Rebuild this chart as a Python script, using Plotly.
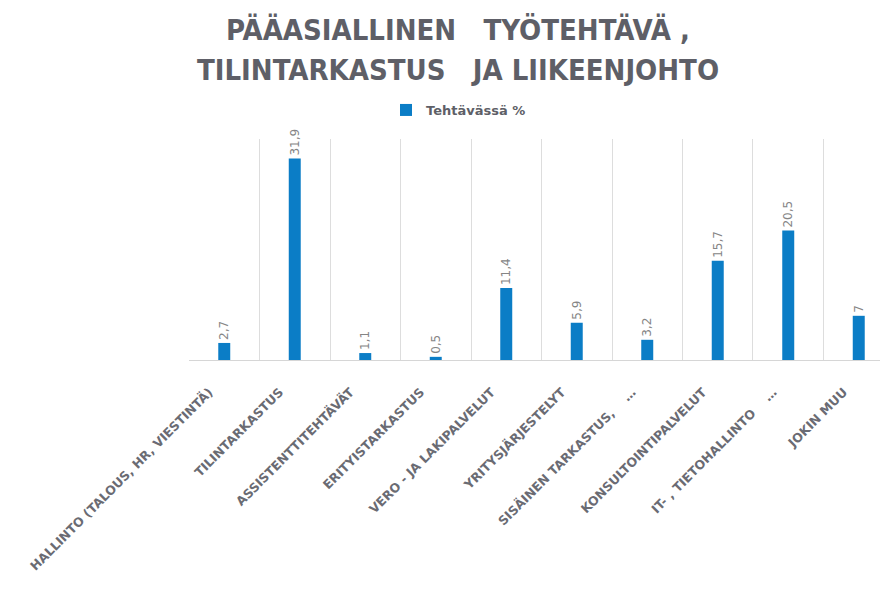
import plotly.graph_objects as go

categories = [
    "HALLINTO (TALOUS, HR, VIESTINTÄ)",
    "TILINTARKASTUS",
    "ASSISTENTTITEHTÄVÄT",
    "ERITYISTARKASTUS",
    "VERO - JA LAKIPALVELUT",
    "YRITYSJÄRJESTELYT",
    "SISÄINEN TARKASTUS,    …",
    "KONSULTOINTIPALVELUT",
    "IT- , TIETOHALLINTO    …",
    "JOKIN MUU",
]
values = [2.7, 31.9, 1.1, 0.5, 11.4, 5.9, 3.2, 15.7, 20.5, 7]
series_name = "Tehtävässä %"
title_lines = ["PÄÄASIALLINEN   TYÖTEHTÄVÄ ,", "TILINTARKASTUS   JA LIIKEENJOHTO"]

labels = [("%g" % v).replace(".", ",") for v in values]

GRAY = "#5e5f67"
fig = go.Figure()
fig.add_trace(go.Bar(
    x=categories, y=values, name=series_name,
    marker=dict(color="#0B7DC6", line=dict(width=0)),
    text=labels, textposition="outside", textangle=-90, constraintext="none",
    textfont=dict(family="DejaVu Sans, sans-serif", size=12, color="#858585"),
    cliponaxis=False,
    showlegend=True,
))

# page body has an 8px margin, so the figure is drawn 8px in from the window edge
W, H = 880, 582
left, right, top, bottom = 181, 880, 131, 352
plot_h = bottom - top

def paper_y(py):
    return (bottom - py) / plot_h

def paper_x(px):
    return (px - left) / (right - left)

fig.update_layout(
    width=W, height=H,
    margin=dict(l=left, r=W - right, t=top, b=H - bottom, autoexpand=False),
    paper_bgcolor="white", plot_bgcolor="white",
    bargap=0.83,
    legend=dict(
        orientation="h", xref="container", yref="container",
        x=378 / W, xanchor="left", y=1 - 102 / H, yanchor="middle",
        font=dict(family="DejaVu Sans, sans-serif", size=13, color=GRAY, weight="bold"),
    ),
    showlegend=True,
    xaxis=dict(
        type="category", tickson="boundaries", range=[-0.5, 9.415],
        showgrid=True, gridcolor="#dddddd", gridwidth=1,
        showline=True, linecolor="#d6d6d6", linewidth=1,
        ticks="", tickangle=-45,
        ticklabelstandoff=19, ticklabelshift=-15,
        tickfont=dict(family="DejaVu Sans, sans-serif", size=12.5, color="#6a6b73", weight="bold"),
        automargin=False,
    ),
    yaxis=dict(
        range=[0, 35], showgrid=False, showticklabels=False, zeroline=False,
        showline=False, ticks="", automargin=False,
    ),
)
for i, (line, py) in enumerate(zip(title_lines, [22, 62])):
    fig.add_annotation(
        text="<b>" + line + "</b>", xref="paper", yref="paper",
        x=paper_x(450), y=paper_y(py), xanchor="center", yanchor="middle",
        showarrow=False,
        font=dict(family="DejaVu Sans Condensed, DejaVu Sans, sans-serif", size=29, color=GRAY),
    )
fig.write_html("out.html")
